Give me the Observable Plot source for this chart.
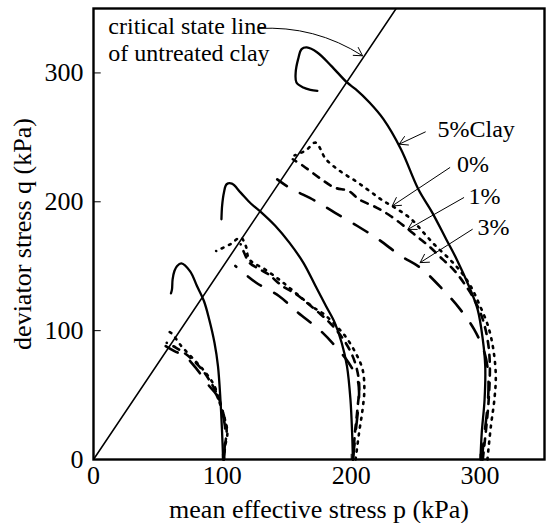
<!DOCTYPE html>
<html>
<head>
<meta charset="utf-8">
<script src="https://cdn.jsdelivr.net/npm/d3@7"></script>
<script src="https://cdn.jsdelivr.net/npm/@observablehq/plot@0.6"></script>
<style>
  html, body { margin: 0; padding: 0; background: #fff; }
</style>
</head>
<body>
<div id="chart"></div>
<script>
// ---- data (p, q in kPa) ----
const xTicks = [0, 100, 200, 300];
const yTicks = [0, 100, 200, 300];
const cslSlope = 1.49; // critical state line q = M p
const cslP = [0, 235];

// 5% clay (solid)
const clay5_100 = [[100.6,0],[99.8,20.7],[98.5,46.6],[96.6,72.5],[93.9,90.6],[89.8,108.7],[85.7,123],[80.3,134.6],[75,146],[68.2,152.2],[64.9,150.2],[62.8,146.3],[61.4,139.8],[60.9,132],[60.1,128.9]];
const clay5_200 = [[201.3,0],[200.7,20.7],[199.4,46.6],[196.7,72.5],[192.6,90.6],[187.2,106.2],[180.4,119.1],[172.3,134.6],[162.8,152.8],[152,168.3],[141.2,181.2],[130.4,191.6],[122.3,198.5],[114.2,207.1],[107.4,214.1],[103.3,213.6],[101.2,207.1],[99.8,196.8],[99.3,186.4]];
const clay5_300 = [[300.3,0],[301.3,20.7],[303.5,46.6],[304,72.5],[302.1,93.2],[298.1,116.5],[291.3,134.6],[281.9,155.3],[273.7,170.9],[262.9,191.6],[252.1,209.7],[238.6,240.8],[225,264.1],[214.2,277],[203.4,287.4],[196.7,292.6],[184.5,305.5],[173.7,315.9],[165.5,319.8],[161.5,318.5],[158.8,310.7],[156.9,300.3],[157.5,292.6],[162.8,288.7],[168.3,286.9],[173.7,286.1]];

// 0% (dotted)
const clay0_100 = [[101.2,0],[102.2,10.4],[103.9,20.7],[102,31],[97.9,44],[93.9,57],[87.1,67.3],[79,76.4],[68.2,88],[60,98.4],[56,99.7]];
const clay0_200 = [[203.4,0],[206.1,20.7],[208.8,38.8],[210.2,54.4],[208.8,69.9],[203.4,82.8],[195.3,95.8],[187.2,104.9],[179.1,112.6],[171,117.8],[162.8,124.3],[152,133.3],[143.9,139.8],[133,147.6],[120.9,155.3],[118.2,165.7],[114.2,172.2],[106,167],[95.2,161.8]];
const clay0_300 = [[305.7,0],[308.4,25.9],[311.1,46.6],[312.2,64.7],[310.3,85.4],[306.2,103.6],[299.4,120.4],[292.7,134.6],[284.6,146.3],[276.5,155.3],[265.6,165.7],[256.2,176],[246.7,186.4],[235.9,194.2],[225,200.6],[214.2,208.4],[203.4,216.1],[191.2,223.9],[180.4,233],[172.3,245.9],[165,240],[156,236]];

// 1% (short dashes)
const clay1_100 = [[100.9,0],[102,10.4],[103.3,23.3],[100.6,36.2],[96.6,49.2],[91.2,59.5],[83,71.2],[73.6,80.3],[64.1,86.7],[56.8,90.6]];
const clay1_200 = [[201.3,0],[202.9,20.7],[204.8,38.8],[206.1,59.5],[202.1,77.7],[194,93.2],[184.5,104.9],[176.4,112.6],[165.5,121.7],[157.4,128.2],[146.6,134.6],[135.8,143.7],[129,147.6],[120.9,152.8],[116.9,160.5],[114.2,167]];
const clay1_300 = [[302.1,0],[304.9,25.9],[306.7,46.6],[307.6,72.5],[306.2,90.6],[302.1,108.7],[295.4,124.3],[287.3,137.2],[279.2,147.6],[271,155.3],[260.2,165.7],[252.1,172.2],[242.6,179.9],[230.5,189],[219.6,195.5],[206.1,201.9],[198,208.4],[187.2,211],[175,218.8],[162.8,227.8],[154.7,233]];

// 3% (long dashes)
const clay3_100 = [[101.2,0],[102,25.9],[99.3,38.8],[95.2,50.5],[89.8,57],[80.3,69.9],[70.9,80.3],[62.8,84.1],[56,88]];
const clay3_200 = [[201.3,0],[203.4,20.7],[206.1,51.8],[204.8,62.1],[198,75.1],[189.9,85.4],[176.4,99.7],[158.8,113.9],[143.9,126.9],[126.3,137.2],[110.1,150.2]];
const clay3_300 = [[301.3,0],[303.5,20.7],[306.2,46.6],[306.2,67.3],[303.5,82.8],[295.4,101],[284.6,116.5],[271,132],[253.5,148.9],[238.6,157.9],[221,170.9],[204.8,181.2],[187.2,191.6],[172.3,200.6],[152,211],[142.6,217.4]];

// annotations
const labels = [
  {text: "critical state line", p: 11.5, q: 336},
  {text: "of untreated clay", p: 11.5, q: 315.5},
  {text: "5%Clay", p: 267, q: 256},
  {text: "0%", p: 282, q: 229},
  {text: "1%", p: 291, q: 204.5},
  {text: "3%", p: 298, q: 180}
];
const arrows = [
  {p1: 257.5, q1: 254.2, p2: 237.2, q2: 244.7},
  {p1: 276.5, q1: 226.5, p2: 231.8, q2: 196.8},
  {p1: 287.3, q1: 203.2, p2: 244, q2: 178.6},
  {p1: 294, q1: 178.6, p2: 253.5, q2: 152.8}
];
const cslArrow = [{p1: 128, q1: 334.5, p2: 208.8, q2: 313.3}];

// ---- build tables ----
function tbl(arr, g) { return arr.map(([p, q]) => ({p, q, g})); }
const solid = [...tbl(clay5_100, 100), ...tbl(clay5_200, 200), ...tbl(clay5_300, 300)];
const dot0 = [...tbl(clay0_100, 100), ...tbl(clay0_200, 200), ...tbl(clay0_300, 300)];
const dash1 = [...tbl(clay1_100, 100), ...tbl(clay1_200, 200), ...tbl(clay1_300, 300)];
const dash3 = [...tbl(clay3_100, 100), ...tbl(clay3_200, 200), ...tbl(clay3_300, 300)];
const csl = cslP.map(p => ({p, q: cslSlope * p}));

const serif = "Liberation Serif";
const chart = Plot.plot({
  width: 547,
  height: 523,
  marginLeft: 93,
  marginRight: 3,
  marginTop: 8,
  marginBottom: 64,
  x: {domain: [0, 350]},
  y: {domain: [0, 350]},
  style: {fontFamily: serif, fontSize: "24px", color: "black", background: "white"},
  marks: [
    Plot.line(csl, {x: "p", y: "q", stroke: "black", strokeWidth: 1.6, clip: true}),
    Plot.line(solid, {x: "p", y: "q", z: "g", stroke: "black", strokeWidth: 2.3, curve: "catmull-rom"}),
    Plot.line(dot0, {x: "p", y: "q", z: "g", stroke: "black", strokeWidth: 2.6, strokeDasharray: "2,6", strokeLinecap: "round", curve: "catmull-rom"}),
    Plot.line(dash1, {x: "p", y: "q", z: "g", stroke: "black", strokeWidth: 2.6, strokeDasharray: "7,7", curve: "catmull-rom"}),
    Plot.line(dash3, {x: "p", y: "q", z: "g", stroke: "black", strokeWidth: 2.6, strokeDasharray: "16,15", curve: "catmull-rom"}),
    Plot.arrow(arrows, {x1: "p1", y1: "q1", x2: "p2", y2: "q2", stroke: "black", strokeWidth: 1, headLength: 14, bend: 0}),
    Plot.arrow(cslArrow, {x1: "p1", y1: "q1", x2: "p2", y2: "q2", stroke: "black", strokeWidth: 1, headLength: 14, bend: 18}),
    Plot.text(labels, {x: "p", y: "q", text: "text", textAnchor: "start", lineAnchor: "middle", fontSize: 24, fontFamily: serif, fill: "black"}),
    Plot.ruleY(yTicks.slice(1), {x1: 0, x2: 6, stroke: "black", strokeWidth: 1}),
    Plot.ruleX(xTicks.slice(1), {y1: 0, y2: 4, stroke: "black", strokeWidth: 1}),
    Plot.axisX({ticks: xTicks, tickSize: 0, tickPadding: 6, fontSize: 26, label: null}),
    Plot.axisY({ticks: yTicks, tickSize: 0, tickPadding: 10, fontSize: 26, label: null}),
    Plot.axisX({ticks: [], tickSize: 0, fontSize: 26, label: "mean effective stress p (kPa)", labelAnchor: "center", labelOffset: 58, labelArrow: "none"}),
    Plot.axisY({ticks: [], tickSize: 0, fontSize: 26, label: "deviator stress q (kPa)", labelAnchor: "center", labelOffset: 81, labelArrow: "none"}),
    Plot.frame({stroke: "black", strokeWidth: 2.4})
  ]
});
d3.select(chart).style("font-family", "'Liberation Serif', serif");
d3.select(chart).selectAll("g, text, tspan")
  .attr("font-family", "Liberation Serif")
  .style("font-family", "'Liberation Serif', serif");
document.getElementById("chart").appendChild(chart);
</script>
</body>
</html>
